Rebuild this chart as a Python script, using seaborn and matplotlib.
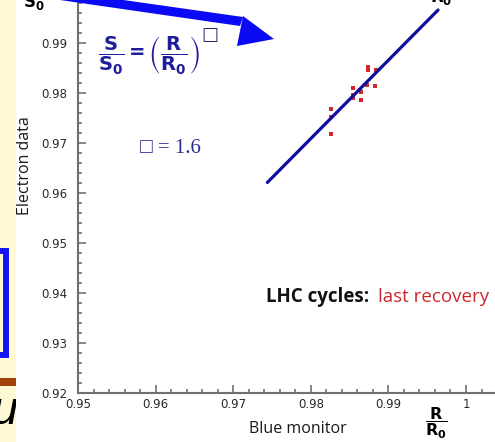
import matplotlib
matplotlib.use("Agg")
import matplotlib.pyplot as plt
from matplotlib.patches import Rectangle, Polygon
from matplotlib.ticker import FixedLocator, MultipleLocator
import seaborn as sns
import pandas as pd

# Last recovery during LHC cycles: blue monitor ratio R/R0 vs electron data ratio S/S0
blue_ratio = [0.98731, 0.98731, 0.98836, 0.98728, 0.98827, 0.98548, 0.98640,
              0.98653, 0.98548, 0.98548, 0.98643, 0.98260, 0.98260, 0.98260]
electron_ratio = [0.98530, 0.98460, 0.98460, 0.98160, 0.98146, 0.98110, 0.98060,
                  0.98020, 0.97960, 0.97900, 0.97860, 0.97674, 0.97520, 0.97180]

# Power-law fit S/S0 = (R/R0)^gamma, drawn as its straight segment over the range
fit_blue = [0.9744, 0.9964]
fit_electron = [0.9621, 0.9966]
gamma = 1.6

x_ticks = [0.95, 0.96, 0.97, 0.98, 0.99, 1.0]
x_tick_labels = ["0.95", "0.96", "0.97", "0.98", "0.99", "1"]
y_ticks = [0.92, 0.93, 0.94, 0.95, 0.96, 0.97, 0.98, 0.99]
y_tick_labels = ["0.92", "0.93", "0.94", "0.95", "0.96", "0.97", "0.98", "0.99"]

points = pd.DataFrame({"blue": blue_ratio, "electron": electron_ratio})
fit = pd.DataFrame({"blue": fit_blue, "electron": fit_electron})

sns.set_style("ticks")
plt.rcParams["font.family"] = ["DejaVu Sans"]
plt.rcParams["mathtext.fontset"] = "dejavusans"

W, H = 495, 442
fig = plt.figure(figsize=(W / 100, H / 100), dpi=100, facecolor="#FFFAD4")


def fx(x):
    return x / W


def fy(y):
    return 1 - y / H


# slide decorations on the left margin
fig.add_artist(Rectangle((fx(-30), fy(354.5)), fx(36), 104 / H, transform=fig.transFigure,
                         facecolor="none", edgecolor="#1414F5", linewidth=4.3, zorder=-3))
fig.add_artist(Rectangle((0, fy(386)), fx(16), 8 / H, transform=fig.transFigure,
                         facecolor="#A4420E", edgecolor="none", zorder=-3))
fig.text(fx(17), fy(424), "u", ha="right", va="baseline", fontsize=34, style="italic",
         family="Liberation Sans", color="black", zorder=-3)
fig.add_artist(Rectangle((fx(16), 0), 1, 1, transform=fig.transFigure,
                         facecolor="white", edgecolor="none", zorder=-2))

# axes: x scale 77.6 px per 0.01, y scale 50 px per 0.01
xlim = (0.95, 1.005)
ylim = (0.92, 1.0)
ax = fig.add_axes([fx(78), fy(393), (xlim[1] - xlim[0]) * 7760 / W,
                   (ylim[1] - ylim[0]) * 5000 / H])
ax.set_facecolor("white")

sns.scatterplot(data=points, x="blue", y="electron", ax=ax, color="#D0282E",
                s=8, marker="s", linewidth=0, zorder=3)
sns.lineplot(data=fit, x="blue", y="electron", ax=ax, color="#0E0E9E",
             linewidth=2.3, zorder=4)

ax.set_xlim(*xlim)
ax.set_ylim(*ylim)
ax.xaxis.set_major_locator(FixedLocator(x_ticks))
ax.set_xticklabels(x_tick_labels)
ax.yaxis.set_major_locator(FixedLocator(y_ticks))
ax.set_yticklabels(y_tick_labels)
ax.xaxis.set_minor_locator(MultipleLocator(0.002))
ax.yaxis.set_minor_locator(MultipleLocator(0.002))
ax.tick_params(which="both", direction="in", color="#707070", width=1.2,
               labelcolor="#2a2a2a", labelsize=8.5)
ax.tick_params(which="major", length=6)
ax.tick_params(which="minor", length=3)
ax.tick_params(axis="y", pad=7.5)
ax.tick_params(axis="x", pad=3.5)
for side in ("left", "bottom"):
    ax.spines[side].set_color("#707070")
    ax.spines[side].set_linewidth(1.5)
ax.set_xlabel("")
ax.set_ylabel("")

# axis titles
fig.text(fx(25), fy(166), "Electron data", rotation=90, ha="center", va="center",
         fontsize=11.5, family="Open Sans", color="#1a1a1a")
fig.text(fx(249), fy(433), "Blue monitor", ha="left", va="baseline",
         fontsize=11.5, family="Open Sans", color="#1a1a1a")
fig.text(fx(436), fy(423), r"$\dfrac{\mathbf{R}}{\mathbf{R}_\mathbf{0}}$", ha="center",
         va="center", fontsize=11.5, color="black")
fig.text(fx(34), fy(13), r"$\dfrac{\mathbf{S}}{\mathbf{S}_\mathbf{0}}$", ha="center",
         va="bottom", fontsize=12, color="black")
fig.text(fx(430), fy(8), r"$\dfrac{\mathbf{R}}{\mathbf{R}_\mathbf{0}}$", ha="left",
         va="bottom", fontsize=12, color="black")

# fit formula and exponent
fig.text(fx(98), fy(34), r"$\dfrac{\mathbf{S}}{\mathbf{S}_\mathbf{0}}\mathbf{=}"
         r"\left(\dfrac{\mathbf{R}}{\mathbf{R}_\mathbf{0}}\right)$",
         ha="left", va="top", fontsize=14, color="#1E1E9A")
fig.text(fx(201), fy(40), "\u25a1", ha="left", va="baseline", fontsize=13,
         family=["DejaVu Sans"], color="#2a2a6a")
fig.text(fx(140), fy(153), f"\u25a1 = {gamma}", ha="left", va="baseline", fontsize=15,
         family=["Liberation Serif", "DejaVu Sans"], color="#2B2B8A")

# caption inside the plot
fig.text(fx(266), fy(302), "LHC cycles:", ha="left", va="baseline", fontsize=13.5,
         family="Open Sans", weight="bold", color="#111111")
fig.text(fx(378), fy(302), "last recovery", ha="left", va="baseline", fontsize=13.5,
         family="Open Sans", color="#C8282E")

# pointer arrow from the formula
px2in = fig.dpi_scale_trans


def pin(pts):
    return [(x / 100, (H - y) / 100) for x, y in pts]


fig.add_artist(Polygon(pin([(60, -9), (243, 17), (240, 26), (60, 0)]), closed=True,
                       transform=px2in, facecolor="#0A0AF5", edgecolor="none", zorder=6))
fig.add_artist(Polygon(pin([(243, 16), (274, 39), (237, 46)]), closed=True,
                       transform=px2in, facecolor="#0A0AF5", edgecolor="none", zorder=6))

fig.savefig("out.png", dpi=100, facecolor=fig.get_facecolor())
